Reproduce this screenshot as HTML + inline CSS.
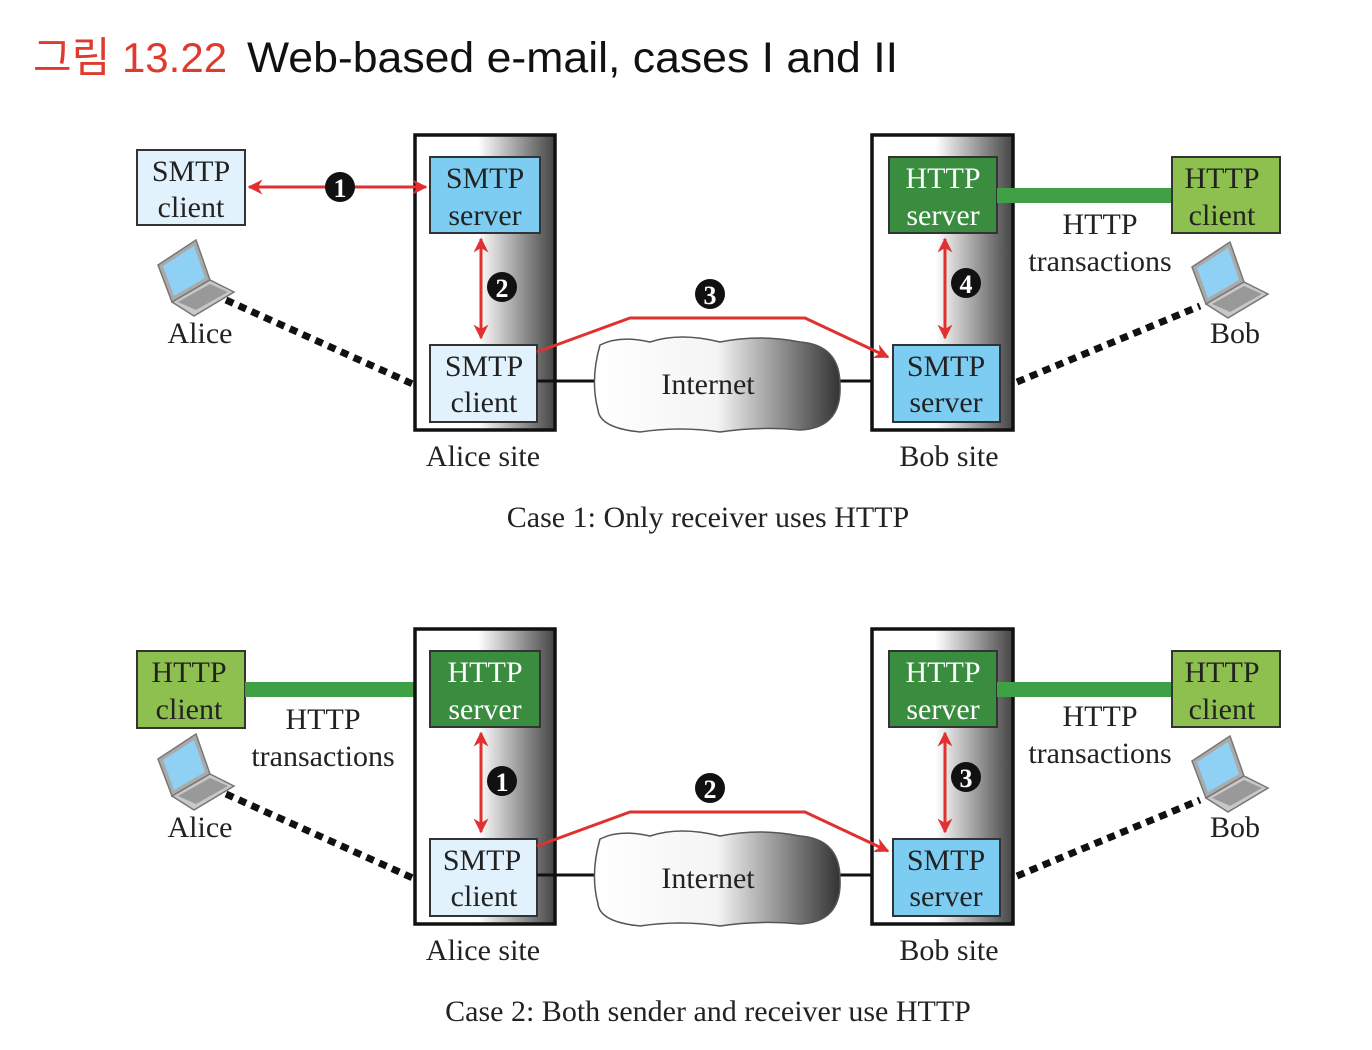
<!DOCTYPE html>
<html><head><meta charset="utf-8"><style>
html,body{margin:0;padding:0;background:#fff;}
svg{display:block;}
.t{font-family:"Liberation Serif",serif;font-size:30px;fill:#222;text-anchor:middle;}
.w{fill:#fff;}
.n{font-family:"Liberation Serif",serif;font-size:26px;font-weight:bold;fill:#fff;text-anchor:middle;}
</style></head><body>
<svg width="1372" height="1050" viewBox="0 0 1372 1050" xmlns="http://www.w3.org/2000/svg">
<defs>
<linearGradient id="sg" x1="0" x2="1" y1="0" y2="0">
<stop offset="0" stop-color="#fff"/><stop offset="0.45" stop-color="#fff"/><stop offset="1" stop-color="#444"/>
</linearGradient>
<linearGradient id="cg" x1="0" x2="1" y1="0" y2="0">
<stop offset="0" stop-color="#fff"/><stop offset="0.5" stop-color="#f4f4f4"/><stop offset="1" stop-color="#333"/>
</linearGradient>
<marker id="ah" viewBox="0 0 10 10" refX="9" refY="5" markerWidth="5" markerHeight="5" orient="auto-start-reverse">
<path d="M0,0 L10,5 L0,10 L3,5 z" fill="#e03030"/>
</marker>
<g id="laptop">
<polygon points="0,25 38,0 52,40 14,62" fill="#aaa" stroke="#777" stroke-width="1.5"/>
<polygon points="5,26 36,6 47,38 16,56" fill="#8fd0f5"/>
<polygon points="14,62 52,40 76,52 36,76" fill="#c8c8c8" stroke="#777" stroke-width="1.5"/>
<polygon points="20,62 52,44 70,52 38,70" fill="#999"/>
</g>
<g id="cloud">
<path d="M600,345 Q620,335 650,342 Q680,332 720,342 Q760,334 800,342 Q840,345 840,385 Q842,428 800,430 Q760,426 720,432 Q680,426 640,432 Q600,428 598,410 Q590,380 600,345 z" fill="url(#cg)" stroke="#555" stroke-width="1.5"/>
</g>
</defs>

<text x="33" y="72" style="font-family:'Liberation Sans','Noto Sans CJK KR',sans-serif;font-size:42px;fill:#e03a2e;">그림 13.22</text>
<text x="247" y="72" textLength="651" lengthAdjust="spacingAndGlyphs" style="font-family:'Liberation Sans',sans-serif;font-size:43px;fill:#111;">Web-based e-mail, cases I and II</text>

<!-- CASE 1 -->
<g>
<rect x="137" y="150" width="108" height="75" fill="#e2f2fc" stroke="#333" stroke-width="2"/>
<text class="t" x="191" y="181">SMTP</text><text class="t" x="191" y="217">client</text>

<rect x="415" y="135" width="140" height="295" fill="url(#sg)" stroke="#111" stroke-width="3.5"/>
<rect x="430" y="157" width="110" height="76" fill="#7dcdf2" stroke="#333" stroke-width="2"/>
<text class="t" x="485" y="188">SMTP</text><text class="t" x="485" y="225">server</text>
<rect x="430" y="345" width="107" height="77" fill="#e2f2fc" stroke="#333" stroke-width="2"/>
<text class="t" x="484" y="376">SMTP</text><text class="t" x="484" y="412">client</text>

<line x1="537" y1="381" x2="600" y2="381" stroke="#111" stroke-width="3"/>
<line x1="838" y1="381" x2="893" y2="381" stroke="#111" stroke-width="3"/>
<use href="#cloud"/>
<text class="t" x="708" y="394">Internet</text>

<rect x="872" y="135" width="141" height="295" fill="url(#sg)" stroke="#111" stroke-width="3.5"/>
<rect x="889" y="157" width="108" height="76" fill="#3a8c3f" stroke="#333" stroke-width="2"/>
<text class="t w" x="943" y="188">HTTP</text><text class="t w" x="943" y="225">server</text>
<rect x="893" y="345" width="107" height="77" fill="#7dcdf2" stroke="#333" stroke-width="2"/>
<text class="t" x="946" y="376">SMTP</text><text class="t" x="946" y="412">server</text>

<rect x="997" y="188" width="176" height="15" fill="#3fa046"/>
<rect x="1172" y="157" width="108" height="76" fill="#8dc04f" stroke="#333" stroke-width="2"/>
<text class="t" x="1222" y="188">HTTP</text><text class="t" x="1222" y="225">client</text>
<text class="t" x="1100" y="234">HTTP</text><text class="t" x="1100" y="271">transactions</text>

<line x1="249" y1="187" x2="426" y2="187" stroke="#e03030" stroke-width="3" marker-start="url(#ah)" marker-end="url(#ah)"/>
<circle cx="340" cy="187" r="15" fill="#111"/><text class="n" x="340" y="197">1</text>
<line x1="481" y1="239" x2="481" y2="338" stroke="#e03030" stroke-width="3" marker-start="url(#ah)" marker-end="url(#ah)"/>
<circle cx="502" cy="287" r="15" fill="#111"/><text class="n" x="502" y="297">2</text>
<polyline points="537,352 630,318 805,318 888,357" fill="none" stroke="#e03030" stroke-width="3" marker-end="url(#ah)"/>
<circle cx="710" cy="294" r="15" fill="#111"/><text class="n" x="710" y="304">3</text>
<line x1="945" y1="239" x2="945" y2="338" stroke="#e03030" stroke-width="3" marker-start="url(#ah)" marker-end="url(#ah)"/>
<circle cx="966" cy="283" r="15" fill="#111"/><text class="n" x="966" y="293">4</text>

<use href="#laptop" x="158" y="240"/>
<use href="#laptop" x="1192" y="242"/>
<line x1="226" y1="300" x2="415" y2="385" stroke="#111" stroke-width="7" stroke-dasharray="8,6"/>
<line x1="1017" y1="382" x2="1200" y2="306" stroke="#111" stroke-width="7" stroke-dasharray="8,6"/>
<text class="t" x="200" y="343">Alice</text><text class="t" x="1235" y="343">Bob</text>
<text class="t" x="483" y="466">Alice site</text><text class="t" x="949" y="466">Bob site</text>
<text class="t" x="708" y="527">Case 1: Only receiver uses HTTP</text>
</g>

<!-- CASE 2 -->
<g transform="translate(0,494)">
<rect x="137" y="157" width="108" height="77" fill="#8dc04f" stroke="#333" stroke-width="2"/>
<text class="t" x="189" y="188">HTTP</text><text class="t" x="189" y="225">client</text>
<rect x="245" y="188" width="186" height="15" fill="#3fa046"/>
<text class="t" x="323" y="235">HTTP</text><text class="t" x="323" y="272">transactions</text>

<rect x="415" y="135" width="140" height="295" fill="url(#sg)" stroke="#111" stroke-width="3.5"/>
<rect x="430" y="157" width="110" height="76" fill="#3a8c3f" stroke="#333" stroke-width="2"/>
<text class="t w" x="485" y="188">HTTP</text><text class="t w" x="485" y="225">server</text>
<rect x="430" y="345" width="107" height="77" fill="#e2f2fc" stroke="#333" stroke-width="2"/>
<text class="t" x="482" y="376">SMTP</text><text class="t" x="484" y="412">client</text>

<line x1="537" y1="381" x2="600" y2="381" stroke="#111" stroke-width="3"/>
<line x1="838" y1="381" x2="893" y2="381" stroke="#111" stroke-width="3"/>
<use href="#cloud"/>
<text class="t" x="708" y="394">Internet</text>

<rect x="872" y="135" width="141" height="295" fill="url(#sg)" stroke="#111" stroke-width="3.5"/>
<rect x="889" y="157" width="108" height="76" fill="#3a8c3f" stroke="#333" stroke-width="2"/>
<text class="t w" x="943" y="188">HTTP</text><text class="t w" x="943" y="225">server</text>
<rect x="893" y="345" width="107" height="77" fill="#7dcdf2" stroke="#333" stroke-width="2"/>
<text class="t" x="946" y="376">SMTP</text><text class="t" x="946" y="412">server</text>

<rect x="997" y="188" width="176" height="15" fill="#3fa046"/>
<rect x="1172" y="157" width="108" height="76" fill="#8dc04f" stroke="#333" stroke-width="2"/>
<text class="t" x="1222" y="188">HTTP</text><text class="t" x="1222" y="225">client</text>
<text class="t" x="1100" y="232">HTTP</text><text class="t" x="1100" y="269">transactions</text>

<line x1="481" y1="239" x2="481" y2="338" stroke="#e03030" stroke-width="3" marker-start="url(#ah)" marker-end="url(#ah)"/>
<circle cx="502" cy="287" r="15" fill="#111"/><text class="n" x="502" y="297">1</text>
<polyline points="537,352 630,318 805,318 888,357" fill="none" stroke="#e03030" stroke-width="3" marker-end="url(#ah)"/>
<circle cx="710" cy="294" r="15" fill="#111"/><text class="n" x="710" y="304">2</text>
<line x1="945" y1="239" x2="945" y2="338" stroke="#e03030" stroke-width="3" marker-start="url(#ah)" marker-end="url(#ah)"/>
<circle cx="966" cy="283" r="15" fill="#111"/><text class="n" x="966" y="293">3</text>

<use href="#laptop" x="158" y="240"/>
<use href="#laptop" x="1192" y="242"/>
<line x1="226" y1="300" x2="415" y2="385" stroke="#111" stroke-width="7" stroke-dasharray="8,6"/>
<line x1="1017" y1="382" x2="1200" y2="306" stroke="#111" stroke-width="7" stroke-dasharray="8,6"/>
<text class="t" x="200" y="343">Alice</text><text class="t" x="1235" y="343">Bob</text>
<text class="t" x="483" y="466">Alice site</text><text class="t" x="949" y="466">Bob site</text>
<text class="t" x="708" y="527">Case 2: Both sender and receiver use HTTP</text>
</g>
</svg>
</body></html>
